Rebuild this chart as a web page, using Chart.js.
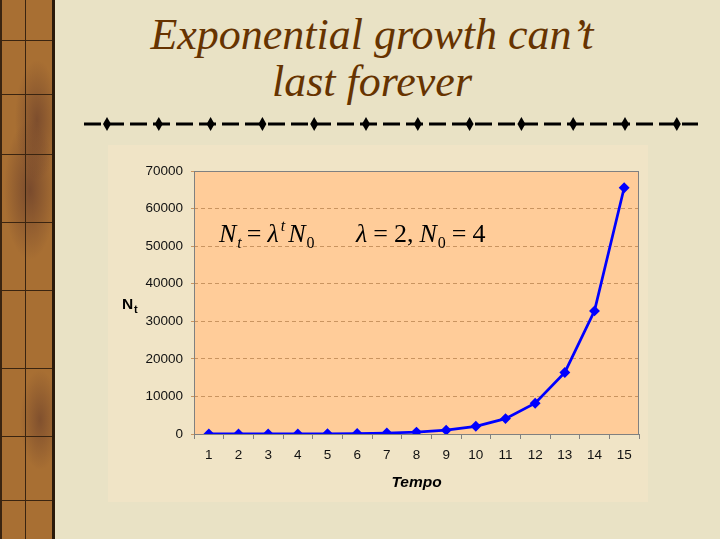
<!DOCTYPE html>
<html>
<head>
<meta charset="utf-8">
<script src="https://cdn.jsdelivr.net/npm/chart.js@4"></script>
<style>
  html, body { margin: 0; padding: 0; }
  body {
    width: 720px; height: 539px; position: relative; overflow: hidden;
    background: #e9e2c5;
  }
  .strip {
    position: absolute; left: 0; top: 0; width: 50px; height: 539px;
    background:
      radial-gradient(ellipse 22px 60px at 35px 120px, rgba(90,50,40,0.55), transparent),
      radial-gradient(ellipse 26px 70px at 28px 190px, rgba(90,50,40,0.6), transparent),
      radial-gradient(ellipse 20px 50px at 38px 420px, rgba(90,50,40,0.5), transparent),
      #a86f33;
    border-left: 2px solid #3a2410;
    border-right: 3px solid #2a1a0a;
  }
  .vline { position: absolute; left: 25px; top: 0; width: 1px; height: 539px; background: #3a2410; }
  .hline { position: absolute; left: 2px; width: 50px; height: 1px; background: #3a2410; }
  .title {
    position: absolute; left: 72px; width: 600px; text-align: center;
    font-family: "Liberation Serif", "Times New Roman", serif; font-style: italic;
    font-size: 44px; line-height: 47px; color: #663300;
  }
  #divider { position: absolute; left: 78px; top: 114px; }
  #box { position: absolute; left: 108px; top: 145px; width: 540px; height: 357px; }
</style>
</head>
<body>
<div class="strip"></div>
<div class="vline"></div>
<div class="hline" style="top:40px"></div>
<div class="hline" style="top:94px"></div>
<div class="hline" style="top:154px"></div>
<div class="hline" style="top:222px"></div>
<div class="hline" style="top:290px"></div>
<div class="hline" style="top:368px"></div>
<div class="hline" style="top:436px"></div>
<div class="hline" style="top:500px"></div>

<div class="title" style="top:11px">Exponential growth can’t</div>
<div class="title" style="top:58px">last forever</div>

<canvas id="divider" width="630" height="20"></canvas>

<div id="box"><canvas id="chart" width="540" height="357"></canvas></div>

<script>
// data
const tempo = ['1', '2', '3', '4', '5', '6', '7', '8', '9', '10', '11', '12', '13', '14', '15'];
const nt = [4, 8, 16, 32, 64, 128, 256, 512, 1024, 2048, 4096, 8192, 16384, 32768, 65536];
const yMin = 0;
const yMax = 70000;
const yStep = 10000;

const tickFont = { family: '"Liberation Sans", Arial, sans-serif', size: 13.5 };

// dashed rule with diamonds under the title
function drawDivider() {
    const c = document.getElementById('divider');
    const ctx = c.getContext('2d');
    ctx.strokeStyle = '#000';
    ctx.lineWidth = 3;
    ctx.setLineDash([17, 6]);
    ctx.lineDashOffset = -2;
    ctx.beginPath();
    ctx.moveTo(4, 10);
    ctx.lineTo(620, 10);
    ctx.stroke();
    ctx.fillStyle = '#000';
    for (let i = 0; i < 12; i++) {
        const x = 29 + i * 51.8;
        ctx.beginPath();
        ctx.moveTo(x, 3);
        ctx.lineTo(x + 4, 10);
        ctx.lineTo(x, 17);
        ctx.lineTo(x - 4, 10);
        ctx.closePath();
        ctx.fill();
    }
}

// chart background, plot fill and plot border
const backdrop = {
    id: 'backdrop',
    beforeDraw(chart) {
        const ctx = chart.ctx;
        const a = chart.chartArea;
        ctx.save();
        ctx.fillStyle = '#f0e4c6';
        ctx.fillRect(0, 0, chart.width, chart.height);
        ctx.fillStyle = '#ffcc99';
        ctx.fillRect(a.left, a.top, a.right - a.left, a.bottom - a.top);
        ctx.restore();
    },
    beforeDatasetsDraw(chart) {
        const ctx = chart.ctx;
        const a = chart.chartArea;
        ctx.save();
        ctx.strokeStyle = '#808080';
        ctx.lineWidth = 1;
        ctx.strokeRect(a.left + 0.5, a.top + 0.5, a.right - a.left - 1, a.bottom - a.top);
        ctx.restore();
    }
};

// N_t axis title and the formula inside the plot
const labels = {
    id: 'labels',
    afterDatasetsDraw(chart) {
        const ctx = chart.ctx;
        const a = chart.chartArea;
        ctx.save();
        ctx.fillStyle = '#000';
        ctx.textBaseline = 'alphabetic';

        // y title
        const yMid = (a.top + a.bottom) / 2;
        ctx.font = 'bold 15.5px "Liberation Sans", Arial, sans-serif';
        ctx.fillText('N', 14, yMid + 6);
        ctx.font = 'bold 11px "Liberation Sans", Arial, sans-serif';
        ctx.fillText('t', 26, yMid + 10);

        // x title
        ctx.font = 'italic bold 15.5px "Liberation Sans", Arial, sans-serif';
        ctx.textAlign = 'center';
        ctx.fillText('Tempo', (a.left + a.right) / 2, a.bottom + 53);
        ctx.textAlign = 'left';

        // formula
        const big = '26px "Liberation Serif", "Times New Roman", serif';
        const bigI = 'italic ' + big;
        const sm = '16px "Liberation Serif", "Times New Roman", serif';
        const smI = 'italic ' + sm;
        const base = a.top + 71;
        let x = a.left + 25;
        const put = (txt, font, dy, gap) => {
            ctx.font = font;
            ctx.fillText(txt, x, base + dy);
            x += ctx.measureText(txt).width + (gap || 0);
        };
        put('N', bigI, 0, 1);
        put('t', smI, 6, 5);
        put('=', big, 0, 6);
        put('λ', bigI, 0, 2);
        put('t', smI, -11, 3);
        put('N', bigI, 0, 1);
        put('0', sm, 6, 0);

        x = a.left + 162;
        put('λ', bigI, 0, 6);
        put('=', big, 0, 6);
        put('2,', big, 0, 6);
        put('N', bigI, 0, 1);
        put('0', sm, 6, 6);
        put('=', big, 0, 6);
        put('4', big, 0, 0);
        ctx.restore();
    }
};

function initChart() {
    drawDivider();
    new Chart(document.getElementById('chart'), {
        type: 'line',
        data: {
            labels: tempo,
            datasets: [{
                data: nt,
                borderColor: '#0000ff',
                backgroundColor: '#0000ff',
                borderWidth: 2.75,
                pointStyle: 'rectRot',
                pointRadius: 3.5,
                pointHoverRadius: 3.5,
                tension: 0
            }]
        },
        options: {
            responsive: false,
            devicePixelRatio: 1,
            animation: false,
            events: [],
            layout: { padding: { top: 26, right: 9, left: 0, bottom: 0 } },
            plugins: {
                legend: { display: false },
                tooltip: { enabled: false }
            },
            scales: {
                x: {
                    offset: true,
                    grid: {
                        offset: true,
                        drawOnChartArea: false,
                        drawTicks: true,
                        tickLength: 5,
                        color: '#808080'
                    },
                    border: { color: '#808080' },
                    ticks: {
                        color: '#111',
                        padding: 8,
                        maxRotation: 0,
                        autoSkip: false,
                        font: tickFont
                    },
                    afterFit(scale) { scale.height = 68; }
                },
                y: {
                    min: yMin,
                    max: yMax,
                    grid: {
                        color: '#c99460',
                        drawTicks: true,
                        tickLength: 3
                    },
                    border: { display: false, dash: [4, 3] },
                    ticks: {
                        stepSize: yStep,
                        color: '#111',
                        padding: 8,
                        font: tickFont,
                        callback: v => String(v)
                    },
                    afterFit(scale) { scale.width = 86; }
                }
            }
        },
        plugins: [backdrop, labels]
    });
}

initChart();
</script>
</body>
</html>
